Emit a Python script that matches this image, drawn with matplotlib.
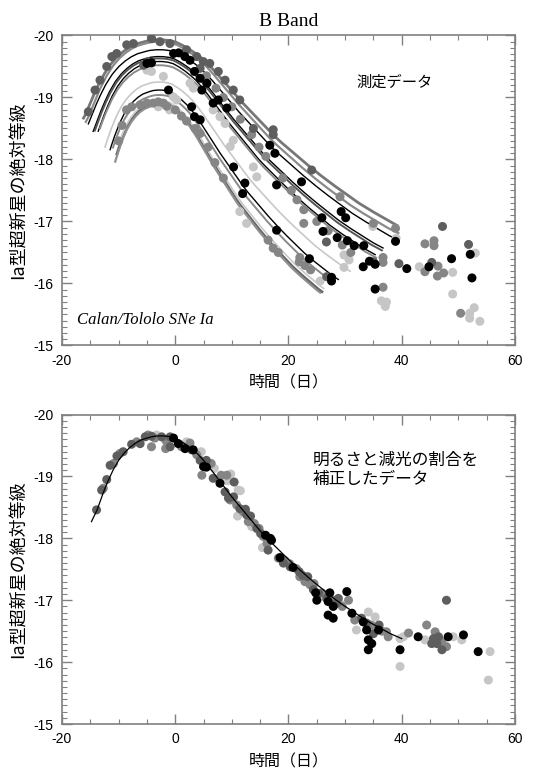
import numpy as np
import matplotlib
matplotlib.use("Agg")
import matplotlib.pyplot as plt
from matplotlib.ticker import MultipleLocator

plt.rcParams['font.family'] = ['Liberation Sans', 'Noto Sans CJK JP', 'DejaVu Sans']
plt.rcParams['axes.unicode_minus'] = False

JP = ['Noto Sans CJK JP', 'DejaVu Sans']

# template light curve (stretch/brightness corrected)
tmpl_t = [-14.8, -13.8, -12.7, -12.0, -11.0, -10.0, -9.0, -8.0, -7.0, -6.0, -5.0, -4.0,
          -3.0, -2.0, -1.0, 0.0, 1.0, 2.0, 3.0, 4.0, 5.0, 6.0, 7.0, 8.0, 9.0, 10.0,
          11.0, 12.0, 13.0, 14.0, 15.0, 16.0, 17.0, 18.0, 20.0, 22.0, 24.0, 26.0,
          28.0, 30.0, 32.0, 34.0, 36.0, 38.0, 40.0]
tmpl_m = [-18.27, -18.46, -18.74, -18.90, -19.10, -19.26, -19.38, -19.47, -19.54, -19.59,
          -19.62, -19.645, -19.655, -19.655, -19.645, -19.62, -19.57, -19.51, -19.44,
          -19.36, -19.26, -19.15, -19.03, -18.91, -18.79, -18.67, -18.56, -18.45, -18.34,
          -18.23, -18.12, -18.02, -17.93, -17.84, -17.66, -17.49, -17.33, -17.18, -17.03,
          -16.90, -16.78, -16.66, -16.56, -16.46, -16.38]
tmpl_tmax = -2.5

# individual fitted curves in the upper panel
curve_peak = [-19.93, -19.90, -19.77, -19.66, -19.63, -19.58, -19.52, -19.25, -19.12,
              -19.04, -18.91, -18.88, -18.95]
curve_stretch = [1.15, 1.10, 1.11, 1.03, 1.02, 0.98, 0.99, 0.895, 0.838, 0.828, 0.766,
                 0.765, 0.78]
curve_start = [-16.2, -15.8, -15.35, -14.5, -14.2, -13.6, -13.3, -12.4, -11.5, -11.0,
               -10.3, -10.6, -10.0]
curve_end = [39.1, 39.4, 38.8, 36.7, 36.5, 35.3, 35.5, 30.9, 28.8, 27.9, 25.9, 25.6, 26.2]
curve_color = ['#777777', '#8a8a8a', 'black', 'black', '#555555', 'black', '#8a8a8a',
               '#c8c8c8', 'black', '#8a8a8a', '#666666', '#8f8f8f', '#c8c8c8']
curve_width = [2.0, 1.6, 1.0, 1.0, 1.4, 1.0, 1.4, 1.2, 1.0, 1.4, 2.0, 1.6, 1.2]
curve_tmax = -2.8

# measured points, upper panel (day, magnitude)
top_black = [(-5.0, -19.55), (-4.2, -19.56), (-1.2, -19.12), (-0.3, -19.71), (0.6, -19.72),
             (1.7, -19.66), (2.6, -19.60), (2.9, -18.85), (3.4, -19.42), (3.4, -18.69),
             (4.4, -19.31), (4.4, -18.64), (4.7, -19.12), (5.6, -19.23), (6.7, -18.91),
             (7.6, -18.96), (9.1, -18.83), (10.3, -17.88), (11.9, -17.45), (12.3, -17.62),
             (16.7, -18.23), (17.6, -18.10), (17.9, -17.59), (17.9, -16.86), (22.3, -17.64),
             (23.7, -16.40), (25.9, -17.06), (26.1, -16.84), (27.6, -16.10), (27.6, -16.04),
             (28.6, -16.74), (29.3, -17.16), (30.1, -17.06), (30.4, -16.69), (31.6, -16.61),
             (33.2, -16.27), (33.3, -16.61), (34.3, -16.36), (35.3, -16.31), (35.3, -15.91),
             (38.9, -16.68), (40.9, -16.24), (44.8, -16.27), (48.8, -16.40), (52.1, -16.47),
             (52.4, -16.09)]
top_dark = [(-15.35, -18.77), (-14.17, -19.12), (-13.29, -19.28), (-12.1, -19.50),
            (-11.2, -19.66), (-10.34, -19.71), (-8.57, -19.85), (-7.4, -19.87),
            (-4.16, -19.95), (-2.7, -19.90), (-0.93, -19.87), (2.0, -19.77), (3.8, -19.66),
            (4.95, -19.58), (6.1, -19.55), (7.6, -19.42), (8.8, -19.28), (10.25, -19.12),
            (11.4, -18.96), (17.3, -18.48), (17.3, -18.40), (24.1, -17.83), (-5.6, -19.52),
            (-4.8, -19.58), (4.4, -19.47), (13.8, -18.50), (26.75, -16.11), (35.0, -16.35),
            (39.5, -16.32), (45.3, -16.34), (47.2, -16.92), (51.8, -16.63), (26.7, -16.67)]
top_gray = [(-10.0, -18.30), (-9.4, -18.55), (-8.6, -18.80), (-7.7, -18.85), (-6.2, -18.88),
            (-5.0, -18.91), (-3.9, -18.91), (-3.0, -18.93), (-2.1, -18.91), (-1.5, -18.86),
            (0.0, -18.80), (1.1, -18.70), (2.0, -18.62), (3.5, -18.50), (4.4, -18.42),
            (5.8, -18.20), (7.0, -17.95), (8.5, -17.70), (16.4, -16.70), (17.3, -16.57),
            (18.2, -16.50), (21.9, -16.35), (22.9, -16.29), (23.9, -16.22), (22.0, -16.42),
            (22.7, -16.97), (22.7, -17.19), (29.1, -17.40), (35.0, -16.97), (36.7, -16.42),
            (36.7, -16.34), (36.7, -15.94), (38.9, -16.89), (44.1, -16.64), (45.7, -16.69),
            (45.7, -16.61), (44.1, -16.19), (46.4, -16.28), (46.3, -16.12), (47.4, -16.17),
            (50.4, -15.52), (5.5, -19.35), (7.2, -19.15), (8.5, -19.00), (10.0, -18.85),
            (11.5, -18.65), (13.5, -18.40), (14.8, -18.20), (16.0, -18.05), (19.0, -17.70),
            (20.5, -17.50), (21.5, -17.35), (25.0, -17.00), (27.0, -16.85), (29.5, -16.62),
            (31.0, -16.50)]
top_light = [(-5.0, -19.44), (-4.2, -19.42), (-2.1, -19.34), (-0.35, -19.01), (0.25, -18.96),
             (2.6, -19.23), (3.2, -19.15), (6.7, -18.80), (7.9, -18.69), (8.8, -18.58),
             (10.25, -18.31), (9.7, -18.21), (13.8, -17.88), (14.4, -17.72), (11.4, -17.16),
             (12.6, -16.97), (25.6, -16.04), (29.8, -16.46), (30.7, -16.38), (29.8, -16.26),
             (43.1, -16.27), (49.0, -16.18), (49.0, -15.83), (52.0, -15.52), (52.0, -15.44),
             (52.8, -15.61), (53.8, -15.39), (36.4, -15.72), (37.1, -15.63), (37.3, -15.70),
             (39.0, -16.73), (34.9, -16.92), (53.0, -16.49), (-3.0, -18.85), (-1.0, -18.80)]

# corrected points, lower panel
bot_black = [(-0.3, -19.62), (0.55, -19.53), (1.73, -19.45), (3.18, -19.43), (5.0, -19.16),
             (5.5, -19.15), (7.9, -18.89), (15.95, -18.05), (16.8, -18.00), (17.0, -17.97),
             (18.5, -17.69), (20.8, -17.53), (24.8, -17.12), (27.3, -17.12), (30.3, -17.14),
             (25.0, -17.00), (27.0, -16.98), (27.9, -16.90), (27.0, -16.76), (27.9, -16.71),
             (31.2, -16.79), (33.2, -16.65), (33.8, -16.52), (34.1, -16.36), (34.1, -16.20),
             (34.7, -16.30), (35.9, -16.52), (39.7, -16.20), (42.9, -16.41), (48.2, -16.41),
             (50.9, -16.44), (53.5, -16.17)]
bot_dark = [(-13.9, -18.46), (-13.0, -18.78), (-12.1, -18.95), (-11.5, -19.18),
            (-10.3, -19.33), (-9.2, -19.40), (-7.7, -19.52), (-6.2, -19.53), (-5.3, -19.64),
            (-4.2, -19.65), (-2.4, -19.64), (-0.9, -19.64), (-0.9, -19.48), (2.9, -19.43),
            (4.4, -19.26), (5.5, -19.26), (6.7, -18.97), (8.8, -18.75), (9.4, -18.65),
            (10.3, -18.67), (10.4, -18.91), (11.4, -18.48), (12.4, -18.47), (12.6, -18.38),
            (13.3, -18.36), (14.4, -18.16), (15.1, -18.08), (16.4, -17.81), (19.1, -17.60),
            (20.3, -17.54), (21.9, -17.46), (22.5, -17.40), (23.4, -17.38), (24.4, -17.17),
            (25.3, -17.11), (26.75, -17.03), (28.8, -17.03), (28.5, -16.95), (32.9, -16.71),
            (33.8, -16.63), (35.0, -16.46), (36.0, -16.60), (45.3, -16.30), (45.6, -16.38),
            (46.2, -16.30), (46.5, -16.41), (47.1, -16.20), (47.9, -17.00)]
bot_gray = [(-12.7, -18.81), (-10.9, -19.21), (-9.8, -19.37), (-6.8, -19.56), (-4.8, -19.67),
            (-3.6, -19.62), (-4.2, -19.48), (-1.5, -19.56), (1.1, -19.48), (-1.7, -19.45),
            (2.6, -19.54), (3.8, -19.35), (5.8, -19.21), (4.7, -19.02), (6.35, -19.21),
            (8.1, -19.02), (9.1, -19.02), (9.7, -18.62), (10.85, -18.54), (12.0, -18.43),
            (12.9, -18.27), (13.96, -18.24), (14.8, -18.16), (15.55, -18.03), (16.2, -17.92),
            (18.2, -17.68), (19.4, -17.64), (20.2, -17.59), (21.4, -17.51), (22.0, -17.38),
            (22.9, -17.30), (23.8, -17.25), (24.5, -17.27), (25.9, -17.12), (27.9, -17.00),
            (30.6, -17.00), (29.5, -16.90), (31.7, -16.68), (34.6, -16.60), (36.5, -16.50),
            (37.3, -16.49), (37.6, -16.41), (41.2, -16.47), (44.4, -16.60), (45.9, -16.49),
            (47.1, -16.33), (47.9, -16.25)]
bot_light = [(-3.3, -19.67), (-1.8, -19.59), (2.0, -19.56), (4.6, -19.40), (6.9, -19.13),
             (9.2, -18.93), (9.8, -19.04), (11.1, -18.78), (11.5, -18.77), (11.0, -18.36),
             (12.5, -18.42), (13.5, -18.19), (15.0, -18.08), (15.4, -17.85), (25.9, -17.06),
             (29.1, -16.95), (32.0, -16.52), (34.1, -16.81), (35.3, -16.73), (39.7, -16.38),
             (40.3, -16.41), (39.7, -15.93), (44.1, -16.36), (49.1, -16.41), (50.6, -16.36),
             (55.6, -16.17), (55.3, -15.71)]

dot_colors = {'light': '#c6c6c6', 'gray': '#858585', 'dark': '#5e5e5e', 'black': '#000000'}
frame_color = '#808080'


def style_axes(ax):
    ax.set_xlim(-20, 60)
    ax.set_ylim(-15, -20)
    ax.xaxis.set_major_locator(MultipleLocator(20))
    ax.xaxis.set_minor_locator(MultipleLocator(5))
    ax.yaxis.set_major_locator(MultipleLocator(1))
    ax.yaxis.set_minor_locator(MultipleLocator(0.1))
    ax.tick_params(which='both', direction='in', top=True, right=True,
                   color=frame_color, labelsize=10, pad=6)
    ax.tick_params(which='major', length=7, width=1)
    ax.tick_params(which='minor', length=3.5, width=0.8)
    for sp in ax.spines.values():
        sp.set_color(frame_color)
        sp.set_linewidth(1.2)
    ax.set_ylabel('Ia型超新星の絶対等級', fontsize=13, family=JP)
    ax.yaxis.set_label_coords(-0.075, 0.5)
    ax.set_xlabel('時間（日）', fontsize=11.5, family=JP)
    ax.xaxis.set_label_coords(0.5, -0.095)


def scatter_points(ax, pts, color):
    t = [p[0] for p in pts]
    m = [p[1] for p in pts]
    ax.scatter(t, m, s=42, color=color, edgecolors='none', zorder=4)


fig = plt.figure(figsize=(5.41, 7.70), dpi=100)
ax1 = fig.add_axes([0.1146, 0.5513, 0.8373, 0.4026])
ax2 = fig.add_axes([0.1146, 0.0597, 0.8373, 0.4019])

# upper panel: measured light curves with individual fits
tmpl_peak = min(tmpl_m)
for pk, s, t0, t1, c, lw in zip(curve_peak, curve_stretch, curve_start, curve_end,
                               curve_color, curve_width):
    tt = np.linspace(t0, t1, 300)
    xx = tmpl_tmax + (tt - curve_tmax) / s
    mm = np.interp(xx, tmpl_t, tmpl_m) + (pk - tmpl_peak)
    ax1.plot(tt, mm, color=c, lw=lw, zorder=2)

scatter_points(ax1, top_light, dot_colors['light'])
scatter_points(ax1, top_gray, dot_colors['gray'])
scatter_points(ax1, top_dark, dot_colors['dark'])
scatter_points(ax1, top_black, dot_colors['black'])

style_axes(ax1)
ax1.set_title('B Band', family='Liberation Serif', fontsize=14, pad=7)
ax1.text(38.8, -19.25, '測定データ', family=JP, fontsize=11, ha='center', va='center')
ax1.text(-17.4, -15.41, 'Calan/Tololo SNe Ia', family='Liberation Serif',
         style='italic', fontsize=12, ha='left', va='center')

# lower panel: corrected data on the template
scatter_points(ax2, bot_light, dot_colors['light'])
scatter_points(ax2, bot_gray, dot_colors['gray'])
scatter_points(ax2, bot_dark, dot_colors['dark'])
scatter_points(ax2, bot_black, dot_colors['black'])
ax2.plot(tmpl_t, tmpl_m, color='black', lw=0.9, zorder=5)

style_axes(ax2)
ax2.text(24.2, -19.4, '明るさと減光の割合を\n補正したデータ', family=JP, fontsize=12,
         ha='left', va='top', linespacing=1.15)

fig.savefig('out.png', dpi=100)
